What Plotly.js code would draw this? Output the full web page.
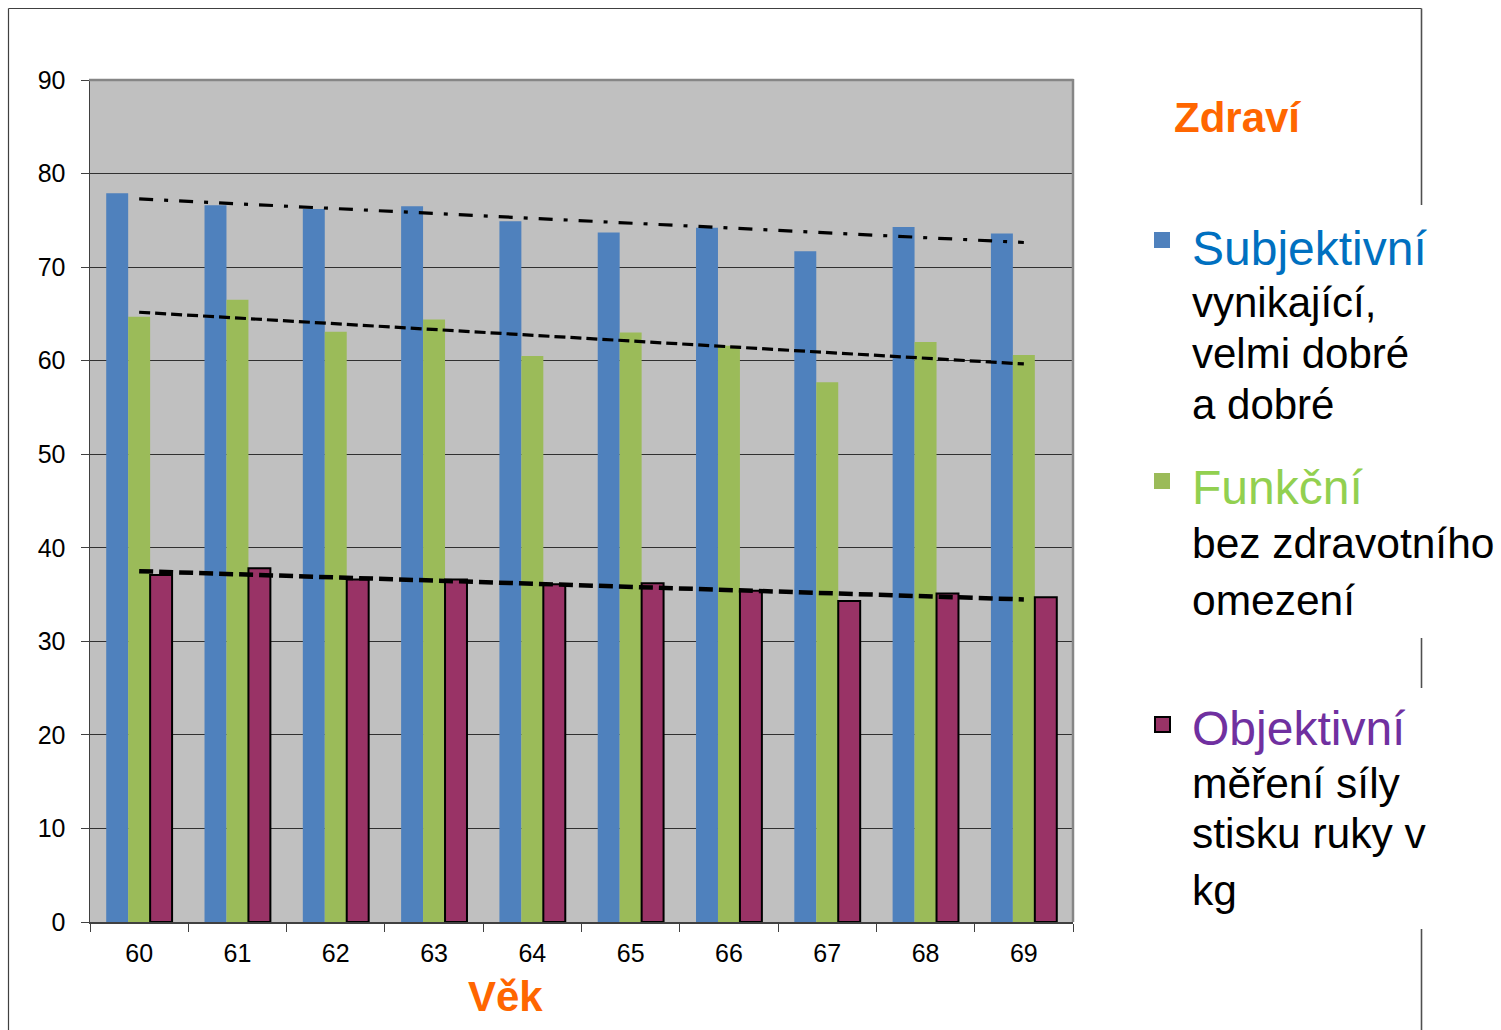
<!DOCTYPE html>
<html>
<head>
<meta charset="utf-8">
<script src="https://cdn.plot.ly/plotly-3.0.1.min.js"></script>
<style>
html,body{margin:0;padding:0;background:#fff;}
#chart{width:1501px;height:1030px;}
</style>
</head>
<body>
<div id="chart"></div>
<script>
// ---- data ----
const ages = ['60','61','62','63','64','65','66','67','68','69'];
const subjektivni = [77.9, 76.6, 76.2, 76.5, 74.9, 73.7, 74.2, 71.7, 74.3, 73.6];
const funkcni     = [64.7, 66.5, 63.1, 64.4, 60.5, 63.0, 61.6, 57.7, 62.0, 60.6];
const objektivni  = [37.1, 37.8, 36.6, 36.6, 36.1, 36.2, 35.4, 34.3, 35.1, 34.7];
const yTicks = [0,10,20,30,40,50,60,70,80,90];
const seriesNames = ['Subjektivní','Funkční','Objektivní'];

// linear trend (as Excel linear trendline) from the data
function trend(vals){
  const n = vals.length;
  const mx = (n-1)/2;
  const my = vals.reduce((a,b)=>a+b,0)/n;
  let sxy=0, sxx=0;
  vals.forEach((v,i)=>{ sxy += (i-mx)*(v-my); sxx += (i-mx)*(i-mx); });
  const b = sxy/sxx, a = my - b*mx;
  return [a, a + b*(n-1)];
}

const FONT = 'Liberation Sans, Arial, sans-serif';
const W = 1501, H = 1030;
const L = 90, R = 1073, T = 80, B = 922;
const px = x => (x - L)/(R - L);
const py = y => (B - y)/(B - T);

const traces = [
  {type:'bar', name:seriesNames[0], x:ages, y:subjektivni, marker:{color:'#4F81BD', line:{width:0}}},
  {type:'bar', name:seriesNames[1], x:ages, y:funkcni, marker:{color:'#9BBB59', line:{width:0}}},
  {type:'bar', name:seriesNames[2], x:ages, y:objektivni, marker:{color:'#993366', line:{color:'#000', width:2}}},
  {type:'scatter', mode:'lines', x:[ages[0], ages[ages.length-1]], y:trend(subjektivni),
   line:{color:'#000', width:3.2, dash:'14px,11px,4px,11px'}, hoverinfo:'skip'},
  {type:'scatter', mode:'lines', x:[ages[0], ages[ages.length-1]], y:trend(funkcni),
   line:{color:'#000', width:3.2, dash:'11px,5px'}, hoverinfo:'skip'},
  {type:'scatter', mode:'lines', x:[ages[0], ages[ages.length-1]], y:trend(objektivni),
   line:{color:'#000', width:4.5, dash:'14px,6px'}, hoverinfo:'skip'}
];

function ann(text, x, y, size, color, bold, anchor){
  return {text: bold ? '<b>'+text+'</b>' : text, xref:'paper', yref:'paper',
    x: px(x), y: py(y), xanchor: anchor || 'left', yanchor:'middle', showarrow:false,
    borderpad:0, font:{family:FONT, size:size, color:color}};
}

const TX = 1191;
const annotations = [
  ann('Zdraví', 1173, 117, 42, '#FF6600', true),
  ann('Věk', 505, 996, 42, '#FF6600', true, 'center'),
  ann('Subjektivní', TX, 248, 48, '#0070C0'),
  ann('vynikající,', TX, 302, 42, '#000'),
  ann('velmi dobré', TX, 353, 42, '#000'),
  ann('a dobré', TX, 405, 42, '#000'),
  ann('Funkční', TX, 488, 48, '#92D050'),
  ann('bez zdravotního', TX, 543, 42.5, '#000'),
  ann('omezení', TX, 600, 42.5, '#000'),
  ann('Objektivní', TX, 728, 48, '#7030A0'),
  ann('měření síly', TX, 783, 42.5, '#000'),
  ann('stisku ruky v', TX, 833, 42.5, '#000'),
  ann('kg', TX, 890, 42.5, '#000')
];

function rect(x0,y0,x1,y1,fill,lineColor,lw){
  return {type:'rect', xref:'paper', yref:'paper', x0:px(x0), x1:px(x1), y0:py(y1), y1:py(y0),
    fillcolor:fill, line:{color:lineColor||fill, width:lw||0}};
}
function seg(x0,y0,x1,y1,color,w){
  return {type:'line', xref:'paper', yref:'paper', x0:px(x0), x1:px(x1), y0:py(y0), y1:py(y1),
    line:{color:color, width:w}};
}

const shapes = [
  // plot frame top / right (grey)
  seg(89, 80, 1073.5, 80, '#868686', 2.5),
  seg(1073, 79, 1073, 922, '#868686', 2.5),
  // outer slide frame
  seg(8.5, 8.5, 1421.5, 8.5, '#404040', 1.2),
  seg(8.5, 8.5, 8.5, 1030, '#404040', 1.2),
  seg(1421.5, 8.5, 1421.5, 205, '#505050', 1.6),
  seg(1421.5, 638, 1421.5, 688, '#505050', 1.6),
  seg(1421.5, 929, 1421.5, 1030, '#505050', 1.6),
  // legend squares
  rect(1154, 232, 1170, 248, '#4F81BD'),
  rect(1154, 473, 1170, 489, '#9BBB59'),
  rect(1155, 717, 1170, 732, '#993366', '#000', 2)
];

const layout = {
  width: W, height: H,
  margin:{l:L, r:W-R, t:T, b:H-B, pad:0},
  paper_bgcolor:'#ffffff',
  plot_bgcolor:'#C0C0C0',
  showlegend:false,
  barmode:'group',
  bargap:0.33,
  bargroupgap:0,
  font:{family:FONT, size:25, color:'#000'},
  xaxis:{type:'category', categoryorder:'array', categoryarray:ages,
    tickson:'boundaries', ticks:'outside', ticklen:8, tickwidth:1, tickcolor:'#404040',
    ticklabelstandoff:8,
    showline:true, linecolor:'#404040', linewidth:1.5, showgrid:false, zeroline:false,
    tickfont:{family:FONT, size:25, color:'#000'}, fixedrange:true},
  yaxis:{range:[0,90], tickvals:yTicks, ticktext:yTicks.map(String),
    ticks:'outside', ticklen:8, tickwidth:1, tickcolor:'#404040', ticklabelstandoff:10,
    showline:true, linecolor:'#404040', linewidth:1.5,
    showgrid:true, gridcolor:'#303030', gridwidth:1, zeroline:false,
    tickfont:{family:FONT, size:25, color:'#000'}, fixedrange:true},
  annotations: annotations,
  shapes: shapes
};

Plotly.newPlot('chart', traces, layout, {displayModeBar:false, staticPlot:true});
</script>
</body>
</html>
